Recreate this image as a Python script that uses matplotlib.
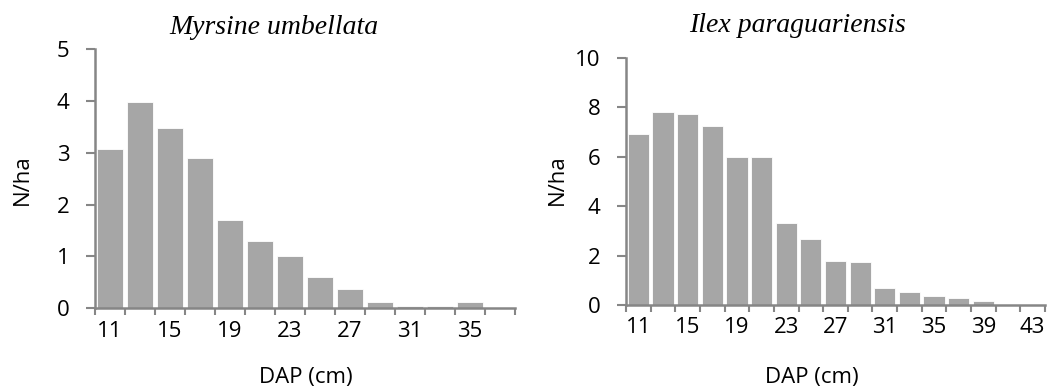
import numpy as np
import matplotlib.pyplot as plt

# Myrsine umbellata
dap_myrsine = [11, 13, 15, 17, 19, 21, 23, 25, 27, 29, 31, 33, 35, 37]
nha_myrsine = [3.08, 3.97, 3.48, 2.90, 1.70, 1.30, 1.00, 0.60, 0.36, 0.12, 0.04, 0.04, 0.12, 0.0]

# Ilex paraguariensis
dap_ilex = [11, 13, 15, 17, 19, 21, 23, 25, 27, 29, 31, 33, 35, 37, 39, 41, 43]
nha_ilex = [6.92, 7.80, 7.72, 7.25, 6.00, 6.00, 3.32, 2.68, 1.78, 1.75, 0.67, 0.52, 0.35, 0.27, 0.18, 0.0, 0.0]

bar_color = '#a6a6a6'
axis_color = '#868686'
label_font = ['Open Sans', 'DejaVu Sans']
title_font = 'Liberation Serif'
fs = 16


def draw_panel(ax, dap, vals, ymax, ystep):
    n = len(dap)
    x = np.arange(n)
    ax.bar(x, vals, width=0.86, color=bar_color, edgecolor='white', linewidth=0.6, zorder=2)
    ax.set_xlim(-0.5, n - 0.5)
    ax.set_ylim(0, ymax)
    ax.set_yticks(np.arange(0, ymax + 0.001, ystep))
    ax.set_yticklabels([f'{v:g}' for v in np.arange(0, ymax + 0.001, ystep)],
                       family=label_font, fontsize=fs)
    # ticks on category boundaries, labels on every second category
    ax.set_xticks(np.arange(n + 1) - 0.5)
    ax.set_xticklabels([])
    ax.set_xticks(x[::2], minor=True)
    ax.set_xticklabels([str(d) for d in dap[::2]], minor=True, family=label_font, fontsize=fs)
    ax.tick_params(axis='x', which='major', length=5, width=1.5, color=axis_color, direction='out')
    ax.tick_params(axis='x', which='minor', length=0, pad=9)
    ax.tick_params(axis='y', length=6.5, width=1.5, color=axis_color, pad=12)
    for s in ['top', 'right']:
        ax.spines[s].set_visible(False)
    for s in ['left', 'bottom']:
        ax.spines[s].set_color(axis_color)
        ax.spines[s].set_linewidth(1.8)


fig = plt.figure(figsize=(10.47, 3.9), dpi=100)
ax1 = fig.add_axes([0.0907, 0.210, 0.401, 0.664])
ax2 = fig.add_axes([0.598, 0.218, 0.400, 0.633])

draw_panel(ax1, dap_myrsine, nha_myrsine, 5, 1)
draw_panel(ax2, dap_ilex, nha_ilex, 10, 2)

fig.text(274 / 1047, 1 - 28 / 390, 'Myrsine umbellata', family=title_font, style='italic',
         fontsize=20, ha='center', va='center')
fig.text(797 / 1047, 1 - 25 / 390, 'Ilex paraguariensis', family=title_font, style='italic',
         fontsize=20, ha='center', va='center')

fig.text(306 / 1047, 1 - 377 / 390, 'DAP (cm)', family=label_font, fontsize=fs, ha='center', va='center')
fig.text(812 / 1047, 1 - 377 / 390, 'DAP (cm)', family=label_font, fontsize=fs, ha='center', va='center')

fig.text(22 / 1047, 1 - 180 / 390, 'N/ha', family=label_font, fontsize=fs, ha='center', va='center',
         rotation=90)
fig.text(557 / 1047, 1 - 180 / 390, 'N/ha', family=label_font, fontsize=fs, ha='center', va='center',
         rotation=90)

fig.savefig('out.png', dpi=100)
